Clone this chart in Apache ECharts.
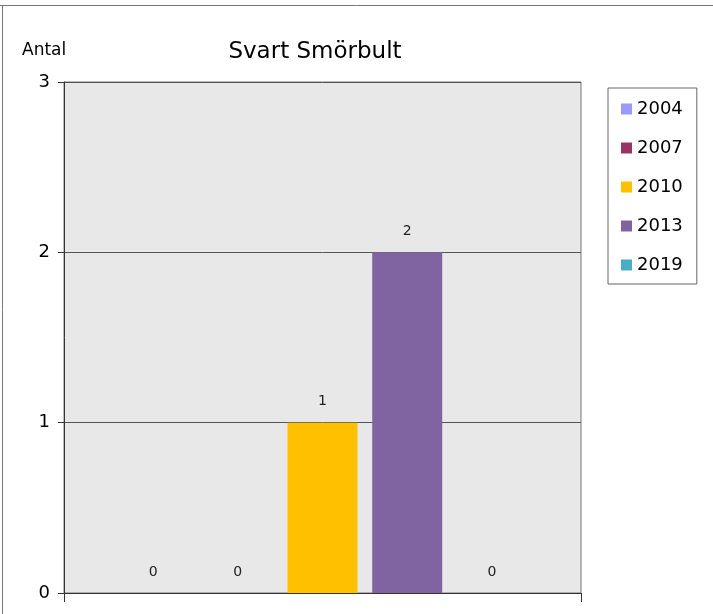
<!DOCTYPE html>
<html><head><meta charset="utf-8">
<script src="https://cdn.jsdelivr.net/npm/echarts@6/dist/echarts.min.js"></script>
<style>html,body{margin:0;padding:0;background:#fff}#c{width:713px;height:614px}</style>
</head><body><div id="c"></div>
<script>
const categories = ['Svart Smörbult'];
const seriesNames = ['2004', '2007', '2010', '2013', '2019'];
const values2004 = [0];
const values2007 = [0];
const values2010 = [1];
const values2013 = [2];
const values2019 = [0];
const yTicks = [0, 1, 2, 3];
const allValues = [values2004, values2007, values2010, values2013, values2019];
const colors = ['#9999ff', '#993366', '#ffc000', '#8064a2', '#4bacc6'];
const F = 'DejaVu Sans, sans-serif';

const chart = echarts.init(document.getElementById('c'));
chart.setOption({
  animation: false,
  title: { text: 'Svart Smörbult', left: 310, top: 36, textAlign: 'center',
    textStyle: { fontFamily: F, fontSize: 23, fontWeight: 'normal', color: '#000' } },
  legend: {
    orient: 'vertical', left: 608, top: 88, padding: [12, 14, 10, 13],
    itemWidth: 11, itemHeight: 11, itemGap: 21, icon: 'rect',
    borderColor: '#666', borderWidth: 1,
    textStyle: { fontFamily: F, fontSize: 18, color: '#000' },
    data: seriesNames
  },
  grid: { left: 64, top: 82, width: 517, height: 511, show: true,
    backgroundColor: '#e8e8e8', borderColor: '#777', borderWidth: 1 },
  xAxis: { type: 'category', data: categories, boundaryGap: true,
    axisLine: { show: true, lineStyle: { color: '#333' } },
    axisTick: { show: true, length: 9, lineStyle: { color: '#333' } },
    axisLabel: { show: false } },
  yAxis: { type: 'value', min: yTicks[0], max: yTicks[yTicks.length - 1], interval: 1,
    axisLine: { show: true, lineStyle: { color: '#333' } },
    axisTick: { show: true, length: 6, lineStyle: { color: '#333' } },
    axisLabel: { fontFamily: F, fontSize: 18, color: '#000', margin: 14 },
    splitLine: { lineStyle: { color: '#555' } } },
  graphic: [
    { type: 'text', left: 22, top: 42, style: { text: 'Antal', font: '17px ' + F, fill: '#000' } },
    { type: 'line', shape: { x1: 0, y1: 5.5, x2: 713, y2: 5.5 }, style: { stroke: '#777', lineWidth: 1 } },
    { type: 'line', shape: { x1: 2.5, y1: 5, x2: 2.5, y2: 614 }, style: { stroke: '#777', lineWidth: 1 } }
  ],
  series: seriesNames.map((n, i) => ({
    name: n, type: 'bar', data: allValues[i], barWidth: 70, barGap: '21%',
    itemStyle: { color: colors[i] },
    label: { show: true, position: 'top', distance: 14, fontFamily: F, fontSize: 14, color: '#222' }
  }))
});
</script></body></html>
